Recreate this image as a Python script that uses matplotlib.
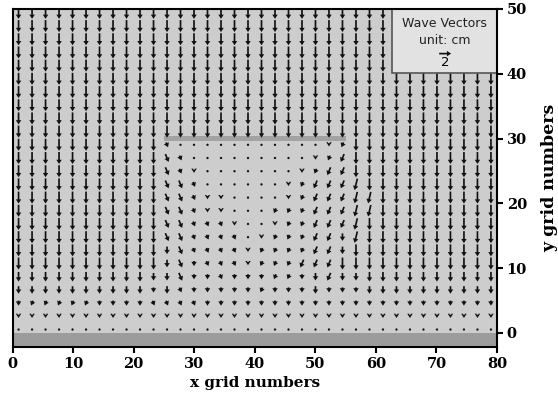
import numpy as np
import matplotlib
matplotlib.use("Agg")
import matplotlib.pyplot as plt
from matplotlib.patches import Rectangle

# grid point positions (x grid numbers / y grid numbers)
x_pts = np.linspace(1, 79, 36)
y_pts = np.linspace(0.5, 49.4, 25)

# breakwater and seabed strip
wall_x = [25, 55]
wall_y = 30
bed_top = 0

# arrow codes -> (u, v) wave vector in cm
codes = {
    'D': (0.0, -2.0),
    'C': (0.0, -1.6),
    'd': (0.0, -1.25),
    's': (0.0, -0.85),
    '.': (0.0, -0.55),
    ',': (0.0, -0.35),
    'R': (0.55, -1.3),
    'r': (0.35, -0.8),
    'L': (-0.55, -1.3),
    'l': (-0.35, -0.8),
    'K': (-0.45, -1.9),
}

# rows from top (y=49.4) down to bottom (y=0.5); 36 columns each
field = [
    "D" * 36,
    "D" * 36,
    "D" * 36,
    "D" * 36,
    "D" * 36,
    "D" * 36,
    "D" * 36,
    "D" * 36,
    "D" * 36,
    "D" * 36,
    "D" * 11 + "r,,,,,,,,,,,.l" + "D" * 11,
    "D" * 11 + "Rr,,,,,,,,,.lL" + "D" * 11,
    "D" * 11 + "Rr.,,,,,,,.lLL" + "D" * 11,
    "D" * 11 + "RRr,,,,,,.lLLL" + "K" + "D" * 10,
    "D" * 11 + "RRr..,,,,.lLLL" + "KK" + "D" * 9,
    "D" * 11 + "RRr..,,,lllLLL" + "KK" + "D" * 9,
    "D" * 11 + "RRrrr.,,.llLLL" + "K" + "D" * 10,
    "D" * 11 + "RRrrrr,.lllLLd" + "K" + "D" * 10,
    "D" * 11 + "dRrrrr.llllLLd" + "D" * 11,
    "D" * 11 + "dRsrrr.lllLLLD" + "D" * 11,
    "C" * 10 + "d" + "dRssrsssllsdLd" + "d" + "C" * 10,
    "d" * 10 + "s" + "drssssslsssdss" + "s" + "d" * 10,
    "s" + "lllll" + "ssss" + "rrrr" + "s" * 22,
    "." * 36,
    "," * 36,
]

X, Y = np.meshgrid(x_pts, y_pts[::-1])
U = np.array([[codes[c][0] for c in row] for row in field])
V = np.array([[codes[c][1] for c in row] for row in field])

fig = plt.figure(figsize=(5.58, 3.98), dpi=100)
ax = fig.add_axes([12.5 / 558, 1 - 347 / 398, 484.5 / 558, 338 / 398])
ax.set_facecolor('#cdcdcd')

ax.add_patch(Rectangle((0, -5), 80, 5 + bed_top, facecolor='#9c9c9c', edgecolor='none', zorder=1))
ax.add_patch(Rectangle((wall_x[0], wall_y - 0.4), wall_x[1] - wall_x[0], 0.8,
                       facecolor='#a2a2a2', edgecolor='none', zorder=1))

q = ax.quiver(X, Y, U, V, color='#111111', pivot='middle', units='inches', width=0.017,
              scale_units='inches', scale=2 / 0.12, headwidth=3.2, headlength=2.5,
              headaxislength=2.5, minshaft=0.5, minlength=1.5, zorder=2)

# key box in the upper right
ax.add_patch(Rectangle((62.6, 40.1), 17.4, 10, facecolor='#e2e2e2', edgecolor='#555555',
                       linewidth=1.2, zorder=2.05))
ax.text(71.3, 47.7, 'Wave Vectors', ha='center', va='center', fontsize=9, color='#222222', zorder=3)
ax.text(71.3, 45.2, 'unit: cm', ha='center', va='center', fontsize=9, color='#222222', zorder=3)
ax.quiverkey(q, 0.893, 0.868, 2, '2', labelpos='S', coordinates='axes',
             labelsep=0.02, fontproperties={'size': 9.5})

ax.set_xlim(0, 80)
ax.set_ylim(-2.2, 50)
ax.set_xticks(np.arange(0, 81, 10))
ax.set_yticks(np.arange(0, 51, 10))
ax.yaxis.tick_right()
ax.yaxis.set_label_position('right')
ax.tick_params(direction='out', length=4, width=1.5, labelsize=10.5, pad=3)
for lab in ax.get_xticklabels() + ax.get_yticklabels():
    lab.set_fontfamily('DejaVu Serif')
    lab.set_fontweight('bold')
for sp in ax.spines.values():
    sp.set_linewidth(1.5)

ax.set_xlabel('x grid numbers', fontfamily='DejaVu Serif', fontweight='bold',
              fontsize=11, labelpad=4)
ax.set_ylabel('y grid numbers', fontfamily='DejaVu Serif', fontweight='bold',
              fontsize=12.5, labelpad=10)

fig.savefig('out.png', dpi=100)
